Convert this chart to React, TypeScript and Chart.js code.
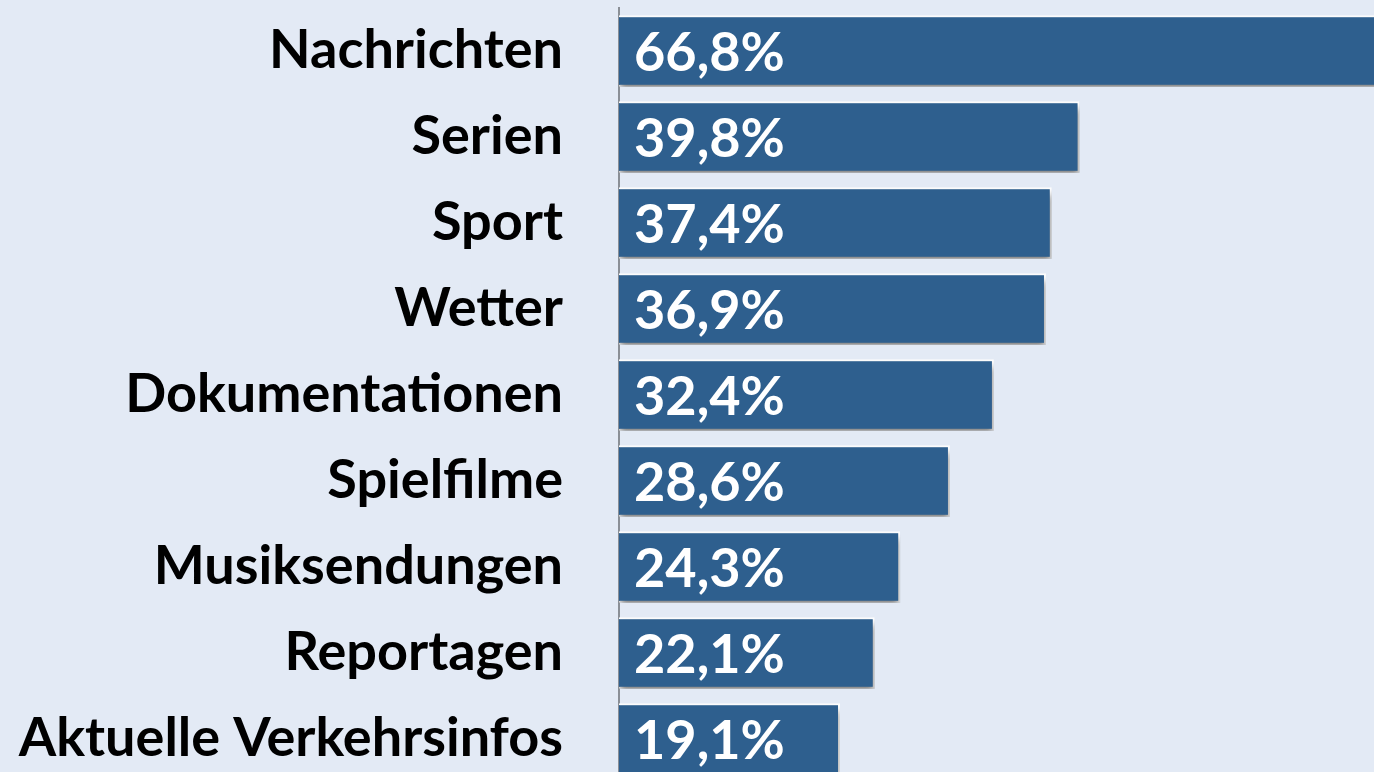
import React, { useEffect, useRef } from "react";
import { Chart, registerables } from "chart.js";

Chart.register(...registerables);

const categories = [
  "Nachrichten",
  "Serien",
  "Sport",
  "Wetter",
  "Dokumentationen",
  "Spielfilme",
  "Musiksendungen",
  "Reportagen",
  "Aktuelle Verkehrsinfos",
];
const values = [66.8, 39.8, 37.4, 36.9, 32.4, 28.6, 24.3, 22.1, 19.1];
const valueLabels = ["66,8%", "39,8%", "37,4%", "36,9%", "32,4%", "28,6%", "24,3%", "22,1%", "19,1%"];

const FONT = "Lato";
const FONT_SIZE = 54;

const shadowPlugin = {
  id: "barShadow",
  beforeDatasetsDraw(chart: any) {
    const ctx = chart.ctx;
    ctx.save();
    ctx.shadowColor = "rgba(0,0,0,0.45)";
    ctx.shadowBlur = 7;
    ctx.shadowOffsetY = 6;
    ctx.shadowOffsetX = 1;
  },
  afterDatasetsDraw(chart: any) {
    chart.ctx.restore();
  },
};

const valueLabelPlugin = {
  id: "valueLabels",
  afterDatasetsDraw(chart: any) {
    const ctx = chart.ctx;
    const meta = chart.getDatasetMeta(0);
    const x0 = chart.scales.x.getPixelForValue(0);
    ctx.save();
    ctx.fillStyle = "#ffffff";
    ctx.font = `bold ${FONT_SIZE}px ${FONT}`;
    ctx.textAlign = "left";
    ctx.textBaseline = "middle";
    meta.data.forEach((bar: any, i: number) => {
      ctx.fillText(valueLabels[i], x0 + 15, bar.y + 3);
    });
    ctx.restore();
  },
};

export default function App() {
  const ref = useRef<HTMLCanvasElement | null>(null);
  useEffect(() => {
    if (!ref.current) return;
    const chart = new Chart(ref.current, {
      type: "bar",
      data: {
        labels: categories,
        datasets: [
          {
            data: values,
            backgroundColor: "#2e5f8e",
            borderColor: "#ffffff",
            borderWidth: 2,
            borderSkipped: "left",
            barPercentage: 0.83,
            categoryPercentage: 1,
          },
        ],
      },
      options: {
        indexAxis: "y",
        animation: false,
        responsive: false,
        maintainAspectRatio: false,
        layout: { padding: { top: 8, right: 0, bottom: 0, left: 0 } },
        plugins: {
          legend: { display: false },
          tooltip: { enabled: false },
        },
        scales: {
          x: {
            display: false,
            min: 0,
            max: 65.25,
          },
          y: {
            afterFit(scale: any) {
              scale.width = 619;
              scale.paddingTop = 0;
              scale.paddingBottom = 0;
            },
            grid: { display: false, drawTicks: false },
            border: { display: true, color: "#8a8f96", width: 2 },
            ticks: {
              color: "#000000",
              padding: 56,
              font: { family: FONT, size: FONT_SIZE, weight: "bold" },
            },
          },
        },
      },
      plugins: [shadowPlugin, valueLabelPlugin],
    });
    return () => chart.destroy();
  }, []);
  return (
    <div
      style={{
        position: "fixed",
        left: 0,
        top: 0,
        width: 1374,
        height: 772,
        overflow: "hidden",
        background: "#e3eaf5",
      }}
    >
      <canvas ref={ref} width={1374} height={782} style={{ display: "block" }} />
    </div>
  );
}
